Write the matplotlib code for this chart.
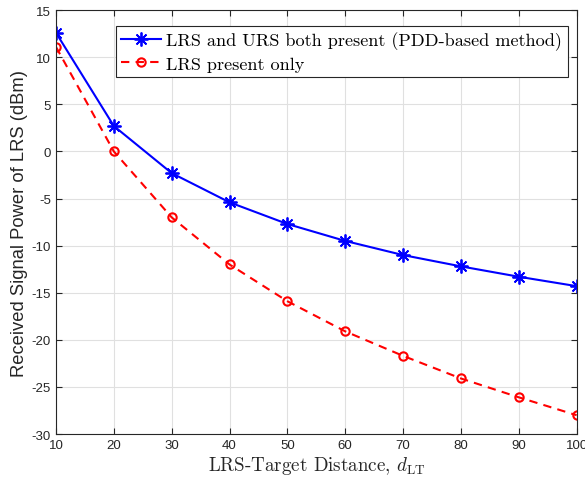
import matplotlib
matplotlib.use("Agg")
import matplotlib.pyplot as plt

# distances and received power (dBm)
distance = [10, 20, 30, 40, 50, 60, 70, 80, 90, 100]
power_both = [12.6, 2.7, -2.3, -5.4, -7.7, -9.5, -11.0, -12.2, -13.3, -14.3]
power_lrs_only = [11.1, 0.0, -7.0, -12.0, -15.9, -19.1, -21.7, -24.1, -26.1, -28.0]

plt.rcParams['mathtext.fontset'] = 'cm'
plt.rcParams['axes.unicode_minus'] = False
plt.rcParams['font.family'] = ['Liberation Sans', 'DejaVu Sans']

fig = plt.figure(figsize=(5.85, 4.85), dpi=100)
ax = fig.add_axes([0.0957, 0.103, 0.890, 0.874])

# asterisk marker like matlab's '*'
ax.plot(distance, power_both, '-', color='#0000ff', lw=1.5, marker=(8, 2, 0),
        ms=10, mew=1.3, label='LRS and URS both present (PDD-based method)')
ax.plot(distance, power_lrs_only, '--', color='#ff0000', lw=1.5, marker='o',
        ms=6, mfc='none', mew=1.5, dashes=(4, 3), label='LRS present only')

ax.set_xlim(10, 100)
ax.set_ylim(-30, 15)
ax.set_xticks(range(10, 101, 10))
ax.set_yticks(range(-30, 16, 5))
ax.grid(True, color='#e0e0e0', lw=0.8)
ax.set_axisbelow(True)
ax.tick_params(direction='in', labelsize=9.5, colors='#262626', top=True, right=True, length=4)
for s in ax.spines.values():
    s.set_color('#262626')
    s.set_linewidth(0.8)

ax.set_ylabel('Received Signal Power of LRS (dBm)', fontsize=13.2, color='#262626', labelpad=3)
ax.set_xlabel(r'LRS-Target Distance, $d_{\mathrm{LT}}$', fontsize=13.7,
              family='cmr10', color='#262626', labelpad=2)

leg = ax.legend(loc='upper right', prop={'family': 'cmr10', 'size': 13.1},
                fancybox=False, framealpha=1, edgecolor='#262626',
                handlelength=2.2, borderpad=0.3, labelspacing=0.3,
                handletextpad=0.3, borderaxespad=0.0,
                bbox_to_anchor=(0.983, 0.962))
leg.get_frame().set_linewidth(0.8)

fig.savefig('out.png', dpi=100)
